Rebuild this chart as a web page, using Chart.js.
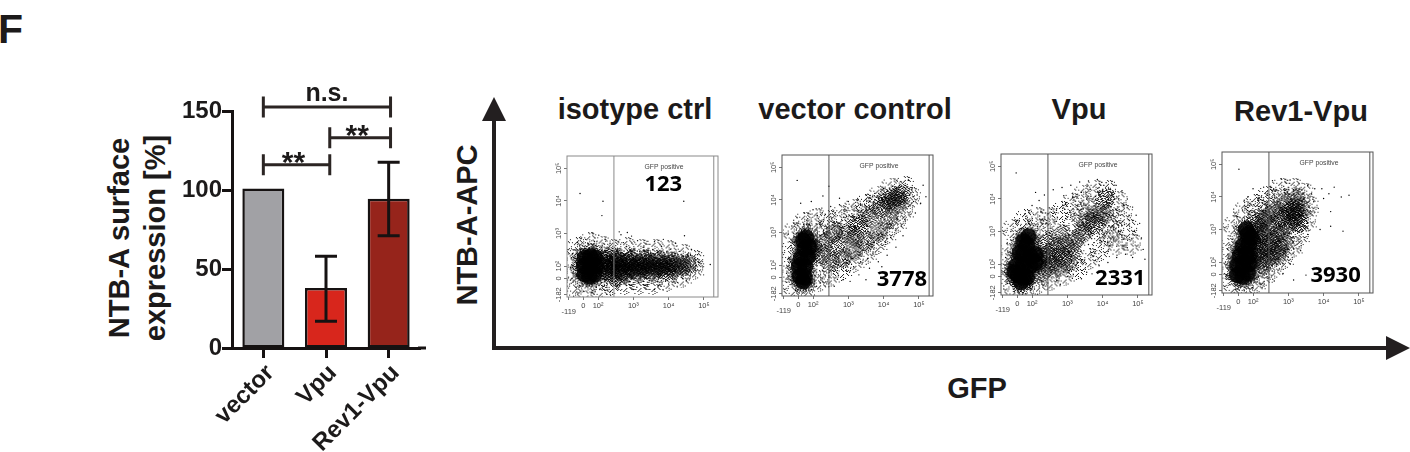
<!DOCTYPE html>
<html>
<head>
<meta charset="utf-8">
<title>NTB-A surface expression</title>
<script src="https://cdn.jsdelivr.net/npm/chart.js@4"></script>
<style>
  html, body { margin: 0; padding: 0; background: #fff; }
  body { width: 1410px; height: 452px; position: relative; overflow: hidden; font-family: "Liberation Sans", Arial, sans-serif; color: #1c1a1a; }
  canvas { position: absolute; }
  .lbl { position: absolute; font-weight: bold; font-size: 29px; line-height: 32px; white-space: nowrap; }
  .mid { transform: translateX(-50%); }
  svg { position: absolute; left: 0; top: 0; }
</style>
</head>
<body>
<div class="lbl" style="left:-2px;top:6px;font-size:41px;line-height:46px;">F</div>
<div class="lbl mid" style="left:635px;top:93px;">isotype ctrl</div>
<div class="lbl mid" style="left:855px;top:93px;">vector control</div>
<div class="lbl mid" style="left:1079px;top:93px;">Vpu</div>
<div class="lbl mid" style="left:1301px;top:95px;">Rev1-Vpu</div>
<div class="lbl mid" style="left:977px;top:372px;">GFP</div>
<div class="lbl" style="left:467px;top:225px;transform:translate(-50%,-50%) rotate(-90deg);">NTB-A-APC</div>
<div class="lbl" style="left:137px;top:238px;line-height:36px;text-align:center;transform:translate(-50%,-50%) rotate(-90deg);">NTB-A surface<br>expression [%]</div>
<svg width="1410" height="452">
  <path d="M494 348H1392" stroke="#231f20" stroke-width="4" fill="none"/>
  <path d="M494 350V118" stroke="#231f20" stroke-width="4" fill="none"/>
  <path d="M494 97L482 121H506Z M1410 348L1386 336V360Z" fill="#231f20"/>
</svg>
<canvas id="bars" width="335" height="382" style="left:100px;top:70px"></canvas>
<canvas id="panel0" width="186" height="176" style="left:537px;top:151px"></canvas>
<canvas id="panel1" width="186" height="176" style="left:752px;top:150px"></canvas>
<canvas id="panel2" width="186" height="176" style="left:971px;top:149px"></canvas>
<canvas id="panel3" width="186" height="176" style="left:1192px;top:147px"></canvas>
<script>
// bar panel
const categories = ["vector", "Vpu", "Rev1-Vpu"];
const expression = [101, 38, 94.5];
const errLow = [null, 17, 71];
const errHigh = [null, 58, 117.5];
const barColors = ["#a1a1a5", "#d8261c", "#96241b"];
const bracketFrom = [0, 1.06, 0];
const bracketTo = [2.03, 2.03, 1.06];
const bracketLevel = [152.5, 133, 116];
const bracketText = ["n.s.", "**", "**"];

// flow panels, values are decades on the biexponential axes
const xTickValues = [1.17, 1.58, 2, 3, 4, 5];
const xTickLabels = [["", "-119"], "0", "10²", "10³", "10⁴", "10⁵"];
const yTickValues = [1.12, 1.62, 2, 3, 4, 5];
const yTickLabels = ["-182", "0", "10²", "10³", "10⁴", "10⁵"];
const gateX = [2.45, 2.45, 2.45, 2.45];
const edgeX = [5.28, 5.29, 5.31, 5.31];
const counts = ["123", "3778", "2331", "3930"];
const countX = [3.85, 4.52, 4.5, 4.34];
const countY = [4.29, 1.37, 1.36, 1.38];

const isoCore = [[1.62,1.75],[1.75,1.68],[1.9,1.75],[1.6,2.0],[1.78,2.0],[1.95,2.0],[1.62,2.25],[1.78,2.3],[1.92,2.25]];
const isoHaze = [[2.2,2.15],[2.22,1.85],[2.38,2.02],[2.42,1.72],[2.55,2.2],[2.6,1.9],[2.75,2.05],[2.78,1.75],[2.92,2.2],[2.98,1.9],[3.12,2.05],[3.15,1.78],[3.3,2.2],[3.36,1.9],[3.5,2.05],[3.55,1.8],[3.68,2.15],[3.75,1.92],[3.88,2.08],[3.95,1.85],[4.08,2.1],[4.15,1.92],[4.28,2.02],[4.4,1.98],[4.55,2.02],[2.5,2.05],[2.88,2.02],[3.25,2.0],[2.25,2.0],[2.35,1.85],[2.45,2.15],[2.65,2.05],[2.7,1.85],[2.85,2.15],[3.0,1.95],[3.2,1.95],[3.42,2.1],[3.6,1.95],[3.8,2.0],[4.0,2.0],[2.3,2.25],[2.6,1.7]];
const isoMist = [[1.4,2.55],[1.75,2.7],[2.1,2.6],[2.4,2.5],[2.8,2.55],[3.2,2.5],[3.6,2.5],[4.0,2.45],[4.4,2.35],[4.75,2.15],[4.75,1.9],[4.4,1.65],[4.0,1.55],[3.6,1.45],[3.2,1.45],[2.8,1.45],[2.4,1.42],[2.1,1.3],[1.7,1.22],[1.35,1.4],[1.28,1.8],[1.28,2.2]];
const isoDust = [[1.49,4.23],[2.14,3.99],[2.11,3.55],[4.43,3.99],[4.45,2.93],[2.83,3.03],[2.65,2.96],[1.85,3.02],[2.02,2.95],[1.65,2.82],[1.42,2.72],[1.9,2.75],[2.2,2.82],[2.34,2.7],[2.12,2.62],[1.72,2.68],[1.32,2.5],[1.24,2.25],[1.22,1.95],[1.26,1.62],[1.38,1.35],[1.6,1.22],[1.82,1.2],[2.05,1.28],[2.25,1.35],[2.5,1.42],[2.8,1.4],[3.1,1.35],[3.4,1.42],[3.7,1.38],[4.0,1.45],[4.25,1.5],[4.5,1.55],[2.55,2.55],[2.8,2.6],[3.02,2.52],[3.3,2.62],[3.55,2.5],[3.8,2.6],[4.05,2.52],[4.3,2.45],[4.55,2.38],[4.72,2.22],[4.85,2.12],[4.95,2.0],[4.75,1.8],[4.6,1.7],[5.18,2.05],[2.42,2.48],[2.68,2.42],[2.95,2.46],[3.18,2.44],[3.42,2.46],[3.68,2.42],[3.95,2.44],[4.18,2.38],[4.42,2.3],[2.4,1.52],[2.62,1.5],[2.9,1.52],[3.15,1.5],[3.45,1.55],[3.68,1.52],[3.92,1.55],[4.18,1.6],[4.4,1.62],[2.72,2.72],[3.12,2.78],[3.6,2.75],[4.2,2.7],[1.5,2.5],[2.28,2.55],[2.18,1.42],[1.95,1.35],[1.48,1.4],[1.3,1.82],[1.28,2.38],[4.82,2.35],[4.65,2.5],[3.0,1.28],[3.6,1.28],[2.35,1.22],[2.6,3.05],[3.85,2.82],[2.95,2.92]];

const vecCore = [[1.62,1.65],[1.76,1.62],[1.6,1.95],[1.78,1.95],[1.65,2.2],[1.85,2.25],[1.75,2.5],[1.9,2.55],[1.72,1.5],[1.8,2.85],[1.72,2.75]];
const vecHaze = [[2.25,2.3],[2.3,2.7],[2.5,2.1],[2.65,2.55],[2.85,2.2],[2.95,2.95],[3.15,2.45],[3.3,3.2],[3.5,2.7],[3.6,3.45],[3.85,3.0],[3.95,3.75],[4.15,3.4],[4.25,3.95],[4.35,4.1],[4.42,3.9],[4.5,4.15],[4.1,4.0],[2.0,2.45],[2.6,3.0],[3.2,2.85]];
const vecMist = [[1.45,3.0],[1.75,3.3],[2.1,3.4],[2.45,3.35],[2.8,3.5],[3.15,3.7],[3.5,3.85],[3.85,4.1],[4.2,4.35],[4.6,4.4],[4.8,4.05],[4.6,3.65],[4.4,3.3],[4.1,2.95],[3.85,2.65],[3.55,2.35],[3.2,2.1],[2.85,1.85],[2.5,1.65],[2.2,1.5],[2.1,2.95],[2.6,3.0],[3.05,3.2],[3.4,3.5],[3.75,3.8],[1.35,2.4],[1.3,1.8],[1.45,1.3],[1.8,1.25]];
const vecDust = [[1.55,4.6],[1.65,3.9],[2.75,4.05],[5.12,4.45],[4.7,4.6],[4.5,4.55],[4.25,4.42],[4.0,4.35],[3.75,4.2],[3.5,4.15],[3.25,4.0],[3.0,3.95],[2.75,3.85],[2.5,3.8],[2.25,3.75],[2.0,3.7],[1.75,3.6],[1.55,3.45],[1.4,3.2],[1.3,2.95],[1.85,3.42],[2.12,3.52],[2.35,3.55],[2.62,3.6],[2.88,3.7],[3.1,3.78],[3.35,3.85],[3.6,3.95],[3.85,4.05],[4.65,4.4],[4.8,4.3],[4.95,4.15],[4.85,3.95],[4.7,3.8],[4.75,3.55],[4.6,3.4],[4.5,3.2],[4.35,3.05],[4.2,2.85],[4.05,2.7],[3.9,2.55],[3.7,2.4],[3.55,2.2],[3.35,2.1],[3.15,1.95],[2.95,1.85],[2.7,1.75],[2.45,1.62],[2.2,1.45],[4.35,2.55],[4.1,2.3],[3.85,2.1],[3.6,1.9],[3.3,1.7],[3.05,1.5],[2.6,1.35],[2.85,1.55],[4.55,2.9],[4.9,3.6],[5.05,3.9],[5.2,4.1],[1.3,2.2],[1.25,1.75],[1.35,1.4],[1.5,1.22],[1.72,1.15],[1.95,1.25],[2.1,1.35],[1.38,2.6],[2.15,1.7],[2.3,1.9],[2.2,2.9],[2.5,3.35],[2.95,3.5],[3.3,3.62],[3.7,3.85],[4.0,4.18],[4.45,4.45],[4.62,4.12],[4.55,3.72],[4.38,3.42],[4.18,3.12],[3.98,2.9],[3.72,2.7],[3.42,2.45],[3.12,2.2],[2.72,2.0],[4.85,4.1],[3.5,1.55],[3.95,1.95],[1.95,3.95],[2.28,4.12],[1.72,3.18],[2.45,4.42]];

const vpuCore = [[1.6,1.65],[1.75,1.58],[1.55,1.95],[1.75,1.95],[1.95,1.95],[1.75,2.3],[1.95,2.25],[1.85,2.6],[1.68,1.45],[1.5,1.75],[1.85,1.6],[1.65,2.35],[1.9,2.85],[1.75,2.7],[2.1,2.05],[2.1,2.3]];
const vpuHaze = [[2.25,2.05],[2.3,1.75],[2.42,2.3],[2.5,1.95],[2.62,2.15],[2.68,2.5],[2.75,1.9],[2.88,2.25],[2.95,2.6],[3.05,2.05],[3.15,2.4],[3.25,2.75],[2.4,2.65],[2.8,2.9],[3.45,2.95],[3.55,3.3],[3.8,3.55],[4.1,4.0],[3.75,3.2],[4.05,3.5]];
const vpuMist = [[1.45,3.05],[1.8,3.35],[2.15,3.4],[2.5,3.4],[2.85,3.6],[3.15,3.85],[3.45,4.1],[3.8,4.25],[4.15,4.25],[4.45,3.9],[4.6,3.5],[4.75,3.05],[4.85,2.6],[4.45,2.6],[4.2,2.85],[3.95,2.4],[3.65,2.15],[3.3,1.85],[2.95,1.65],[2.55,1.5],[2.2,1.4],[3.2,3.2],[3.9,2.95],[4.3,3.35],[2.3,3.05],[1.3,2.3],[1.3,1.7],[1.5,1.25],[1.85,1.25],[3.6,3.7],[4.0,3.6],[3.4,3.5],[4.3,3.0]];
const vpuDust = [[1.55,4.8],[2.1,4.2],[2.35,4.12],[2.6,4.28],[2.85,4.35],[3.1,4.42],[3.35,4.52],[3.6,4.55],[3.85,4.6],[4.1,4.5],[4.35,4.42],[4.55,4.25],[4.7,4.0],[4.85,3.75],[4.95,3.5],[5.05,3.25],[4.9,3.0],[5.1,2.8],[5.15,2.45],[4.7,2.5],[4.55,2.75],[4.75,3.2],[4.5,3.5],[4.6,3.8],[4.35,3.25],[4.2,2.95],[4.4,2.55],[4.15,2.4],[3.95,2.65],[3.75,2.25],[3.5,2.05],[3.25,1.78],[3.0,1.62],[2.7,1.5],[2.45,1.42],[2.2,1.3],[3.9,1.95],[4.15,2.05],[4.4,2.2],[3.55,1.75],[1.4,3.0],[1.6,3.35],[1.8,3.55],[2.0,3.8],[2.25,3.6],[2.45,3.55],[2.7,3.7],[2.95,3.85],[3.15,4.05],[3.4,4.2],[3.65,4.3],[3.9,4.35],[1.3,2.65],[1.25,2.2],[1.22,1.75],[1.3,1.4],[1.5,1.15],[1.75,1.12],[1.95,1.25],[2.15,3.15],[2.4,3.25],[2.65,3.3],[2.95,3.4],[3.2,3.55],[3.45,3.7],[4.3,4.2],[4.45,4.0],[4.2,3.5],[4.45,3.0],[3.85,2.85],[3.6,2.6],[3.3,2.4],[1.9,3.25],[2.2,3.95],[1.7,3.1],[2.9,4.1],[3.55,4.0],[4.0,4.25],[3.3,3.2],[3.65,3.0],[4.65,2.3],[5.2,2.15],[4.85,2.2],[3.05,3.1],[2.55,3.0],[4.75,3.5],[2.8,1.38],[3.4,1.55],[3.7,1.7]];

const revCore = [[1.55,1.6],[1.7,1.55],[1.85,1.65],[1.55,1.9],[1.72,1.9],[1.9,1.95],[1.62,2.2],[1.8,2.25],[1.7,2.5],[1.88,2.55],[1.85,2.85],[1.9,2.2],[1.95,2.75],[1.8,3.0]];
const revHaze = [[2.2,2.4],[2.25,2.85],[2.28,3.25],[2.42,2.1],[2.5,2.65],[2.52,3.1],[2.58,3.55],[2.75,2.4],[2.8,2.9],[2.82,3.35],[2.9,3.8],[3.02,3.15],[3.08,3.6],[3.2,3.95],[3.28,3.45],[3.35,3.7],[3.15,3.3],[2.05,3.2],[2.4,2.45],[2.95,3.5],[2.2,2.1],[2.3,1.9],[2.55,2.35],[2.15,2.65],[2.15,3.0],[2.4,3.4],[2.7,2.2],[2.65,2.85],[2.9,2.6],[3.2,3.6],[3.3,3.2]];
const revMist = [[1.45,3.1],[1.75,3.55],[2.05,3.75],[2.4,4.0],[2.8,4.25],[3.15,4.25],[3.45,4.1],[3.6,3.7],[3.55,3.25],[3.35,2.8],[3.15,2.45],[2.9,2.1],[2.6,1.8],[2.3,1.55],[2.1,1.35],[2.15,3.6],[2.6,3.9],[1.3,2.4],[1.3,1.8],[1.45,1.3],[1.8,1.22]];
const revDust = [[1.6,4.85],[1.75,3.9],[2.0,4.25],[1.85,4.0],[2.3,4.3],[2.55,4.5],[2.8,4.55],[3.05,4.52],[3.3,4.4],[3.55,4.35],[3.65,4.1],[3.72,3.85],[3.62,3.5],[3.55,3.2],[3.4,2.95],[3.3,2.7],[3.15,2.4],[3.0,2.15],[2.85,1.95],[2.6,1.7],[2.4,1.55],[2.2,1.35],[2.95,2.5],[3.2,2.95],[3.45,3.3],[1.35,2.8],[1.5,3.1],[1.55,3.4],[1.7,3.6],[1.95,3.75],[2.15,3.9],[2.4,4.05],[2.65,4.2],[2.9,4.25],[3.15,4.22],[3.42,4.12],[1.28,2.4],[1.22,2.0],[1.25,1.6],[1.35,1.3],[1.5,1.15],[1.75,1.12],[1.98,1.22],[2.15,1.55],[2.45,1.9],[2.72,2.12],[4.15,4.1],[4.5,4.0],[4.72,4.05],[4.3,4.3],[3.95,4.25],[4.0,3.95],[4.2,3.1],[4.55,2.95],[4.2,3.55],[3.9,3.0],[3.25,2.55],[3.15,1.45],[3.5,1.6],[1.8,3.25],[2.05,3.55],[2.25,3.6],[3.75,4.25],[3.85,3.65],[3.55,2.85],[3.35,2.35],[2.6,1.42],[2.85,1.65],[3.05,1.95]];

const panelCore = [isoCore, vecCore, vpuCore, revCore];
const panelHaze = [isoHaze, vecHaze, vpuHaze, revHaze];
const panelMist = [isoMist, vecMist, vpuMist, revMist];
const panelDust = [isoDust, vecDust, vpuDust, revDust];
const panelInk = ["#8a8a8a", "#555", "#555", "#555"];

const ink = "#161212";

// speckle used to stamp the dense parts of the dot clouds
const grain = [
  "1001011000101",
  "0110000110010",
  "0001101000110",
  "1100010011000",
  "0010100100011",
  "1001001010100",
  "0100110001001",
  "0011000110010",
  "1000101001100",
  "0101010000011",
  "1010001101000"
];

function stamp(radius, solidTo, grainTo) {
  const c = document.createElement("canvas");
  c.width = c.height = radius * 2;
  const g = c.getContext("2d");
  g.fillStyle = "rgba(0,0,0,0.9)";
  for (let py = 0; py < c.height; py++) {
    for (let px = 0; px < c.width; px++) {
      const r = Math.hypot(px - radius + 0.5, py - radius + 0.5) / radius;
      const a = grain[py % 11][px % 13] === "1";
      const b = grain[(py + 5) % 11][(px + 3) % 13] === "1";
      if (r > 1) continue;
      if (r < solidTo || (r < grainTo && a) || (r >= grainTo && a && b)) g.fillRect(px, py, 1, 1);
    }
  }
  return c;
}
const coreStamp = stamp(13, 0.62, 0.8);
const hazeStamp = stamp(11, 0, 0.8);
const mistStamp = stamp(11, 0, 0);

const barExtras = {
  id: "barExtras",
  afterDatasetsDraw(chart) {
    const { ctx, scales: { x, y } } = chart;
    ctx.save();
    ctx.strokeStyle = ink;
    ctx.lineWidth = 3;
    // axis runs a bit past the last band
    ctx.beginPath();
    ctx.moveTo(chart.chartArea.right - 2, y.getPixelForValue(0));
    ctx.lineTo(chart.chartArea.right + 6, y.getPixelForValue(0));
    ctx.stroke();
    // error bars
    expression.forEach((v, i) => {
      if (errLow[i] === null) return;
      const px = x.getPixelForValue(i);
      const lo = y.getPixelForValue(errLow[i]);
      const hi = y.getPixelForValue(errHigh[i]);
      ctx.beginPath();
      ctx.moveTo(px, lo); ctx.lineTo(px, hi);
      ctx.moveTo(px - 11, lo); ctx.lineTo(px + 11, lo);
      ctx.moveTo(px - 11, hi); ctx.lineTo(px + 11, hi);
      ctx.stroke();
    });
    // significance brackets
    ctx.strokeStyle = "#2b2523";
    ctx.fillStyle = "#1c1a1a";
    ctx.textAlign = "center";
    ctx.textBaseline = "alphabetic";
    bracketLevel.forEach((lvl, i) => {
      const a = x.getPixelForValue(bracketFrom[i]);
      const b = x.getPixelForValue(bracketTo[i]);
      const py = y.getPixelForValue(lvl);
      ctx.beginPath();
      ctx.moveTo(a, py); ctx.lineTo(b, py);
      ctx.moveTo(a, py - 10.5); ctx.lineTo(a, py + 10.5);
      ctx.moveTo(b, py - 10.5); ctx.lineTo(b, py + 10.5);
      ctx.stroke();
      const isStars = bracketText[i] === "**";
      ctx.font = isStars ? "bold 30px 'Liberation Sans'" : "bold 25px 'Liberation Sans'";
      ctx.fillText(bracketText[i], (a + b) / 2 - (isStars ? 3 : 0), py + (isStars ? 7 : -6));
    });
    ctx.restore();
  }
};

new Chart(document.getElementById("bars"), {
  type: "bar",
  data: {
    labels: categories,
    datasets: [{
      data: expression,
      backgroundColor: barColors,
      borderColor: ink,
      borderWidth: 2.5,
      borderSkipped: false,
      barPercentage: 0.67,
      categoryPercentage: 1
    }]
  },
  plugins: [barExtras],
  options: {
    responsive: false,
    animation: false,
    layout: { padding: { top: 41, right: 15, left: 0, bottom: 0 } },
    plugins: { legend: { display: false }, tooltip: { enabled: false } },
    scales: {
      x: {
        afterFit(s) { s.height = 104; s.paddingLeft = 0; s.paddingRight = 0; },
        border: { color: ink, width: 3 },
        grid: { offset: false, drawOnChartArea: false, drawTicks: true, tickLength: 10, tickWidth: 3, tickColor: ink },
        ticks: { color: "#1c1a1a", font: { family: "Liberation Sans", weight: "bold", size: 24 }, minRotation: 45, maxRotation: 45, padding: 1, labelOffset: 7 }
      },
      y: {
        min: 0, max: 150,
        afterFit(s) { s.width = 132; s.paddingTop = 0; s.paddingBottom = 0; },
        afterBuildTicks(s) { s.ticks = [0, 50, 100, 150].map(v => ({ value: v })); },
        border: { color: ink, width: 3 },
        grid: { drawOnChartArea: false, drawTicks: true, tickLength: 10, tickWidth: 3, tickColor: ink },
        ticks: { color: "#1c1a1a", font: { family: "Liberation Sans", weight: "bold", size: 24 }, padding: 0 }
      }
    }
  }
});

const panelFrame = {
  id: "panelFrame",
  afterDatasetsDraw(chart, args, opts) {
    const { ctx, chartArea: a, scales: { x, y } } = chart;
    const i = opts.index;
    ctx.save();
    ctx.strokeStyle = panelInk[i];
    ctx.lineWidth = 1;
    ctx.strokeRect(a.left, a.top, a.width, a.height);
    ctx.beginPath();
    ctx.moveTo(x.getPixelForValue(gateX[i]), a.top);
    ctx.lineTo(x.getPixelForValue(gateX[i]), a.bottom);
    ctx.moveTo(x.getPixelForValue(edgeX[i]), a.top);
    ctx.lineTo(x.getPixelForValue(edgeX[i]), a.bottom);
    ctx.stroke();
    ctx.fillStyle = "#444";
    ctx.font = "6.8px 'Liberation Sans'";
    ctx.textAlign = "center";
    ctx.fillText("GFP positive", x.getPixelForValue(gateX[i] + 1.42), a.top + 13);
    ctx.fillStyle = "#000";
    ctx.font = "bold 22px 'Open Sans'";
    ctx.fillText(counts[i], x.getPixelForValue(countX[i]), y.getPixelForValue(countY[i]));
    ctx.restore();
  }
};

const toXY = list => list.map(p => ({ x: p[0], y: p[1] }));

counts.forEach((c, i) => {
  new Chart(document.getElementById("panel" + i), {
    type: "scatter",
    data: {
      datasets: [
        { data: toXY(panelMist[i]), pointStyle: mistStamp, pointRadius: 1 },
        { data: toXY(panelHaze[i]), pointStyle: hazeStamp, pointRadius: 1 },
        { data: toXY(panelCore[i]), pointStyle: coreStamp, pointRadius: 1 },
        { data: toXY(panelDust[i]), pointRadius: 0.7, pointBackgroundColor: "#000", pointBorderWidth: 0 }
      ]
    },
    plugins: [panelFrame],
    options: {
      responsive: false,
      animation: false,
      layout: { padding: { top: 5, right: 5, left: 0, bottom: 0 } },
      plugins: { legend: { display: false }, tooltip: { enabled: false }, panelFrame: { index: i } },
      scales: {
        x: {
          min: 1.12, max: 5.4,
          afterFit(s) { s.height = 30; s.paddingLeft = 0; s.paddingRight = 0; },
          afterBuildTicks(s) { s.ticks = xTickValues.map(v => ({ value: v })); },
          border: { display: false },
          grid: { drawOnChartArea: false, tickLength: 3, tickColor: "#777" },
          ticks: {
            color: "#444", font: { family: "Liberation Sans", size: 7.5, lineHeight: 0.8 }, padding: 3, maxRotation: 0, autoSkip: false,
            callback(v, idx) { return xTickLabels[idx]; }
          }
        },
        y: {
          min: 1.05, max: 5.38,
          afterFit(s) { s.width = 30; s.paddingTop = 0; s.paddingBottom = 0; },
          afterBuildTicks(s) { s.ticks = yTickValues.map(v => ({ value: v })); },
          border: { display: false },
          grid: { drawOnChartArea: false, tickLength: 3, tickColor: "#777" },
          ticks: {
            color: "#444", font: { family: "Liberation Sans", size: 7.5 }, padding: -2, minRotation: 90, maxRotation: 90, crossAlign: "center", autoSkip: false,
            callback(v, idx) { return yTickLabels[idx]; }
          }
        }
      }
    }
  });
});
</script>
</body>
</html>
